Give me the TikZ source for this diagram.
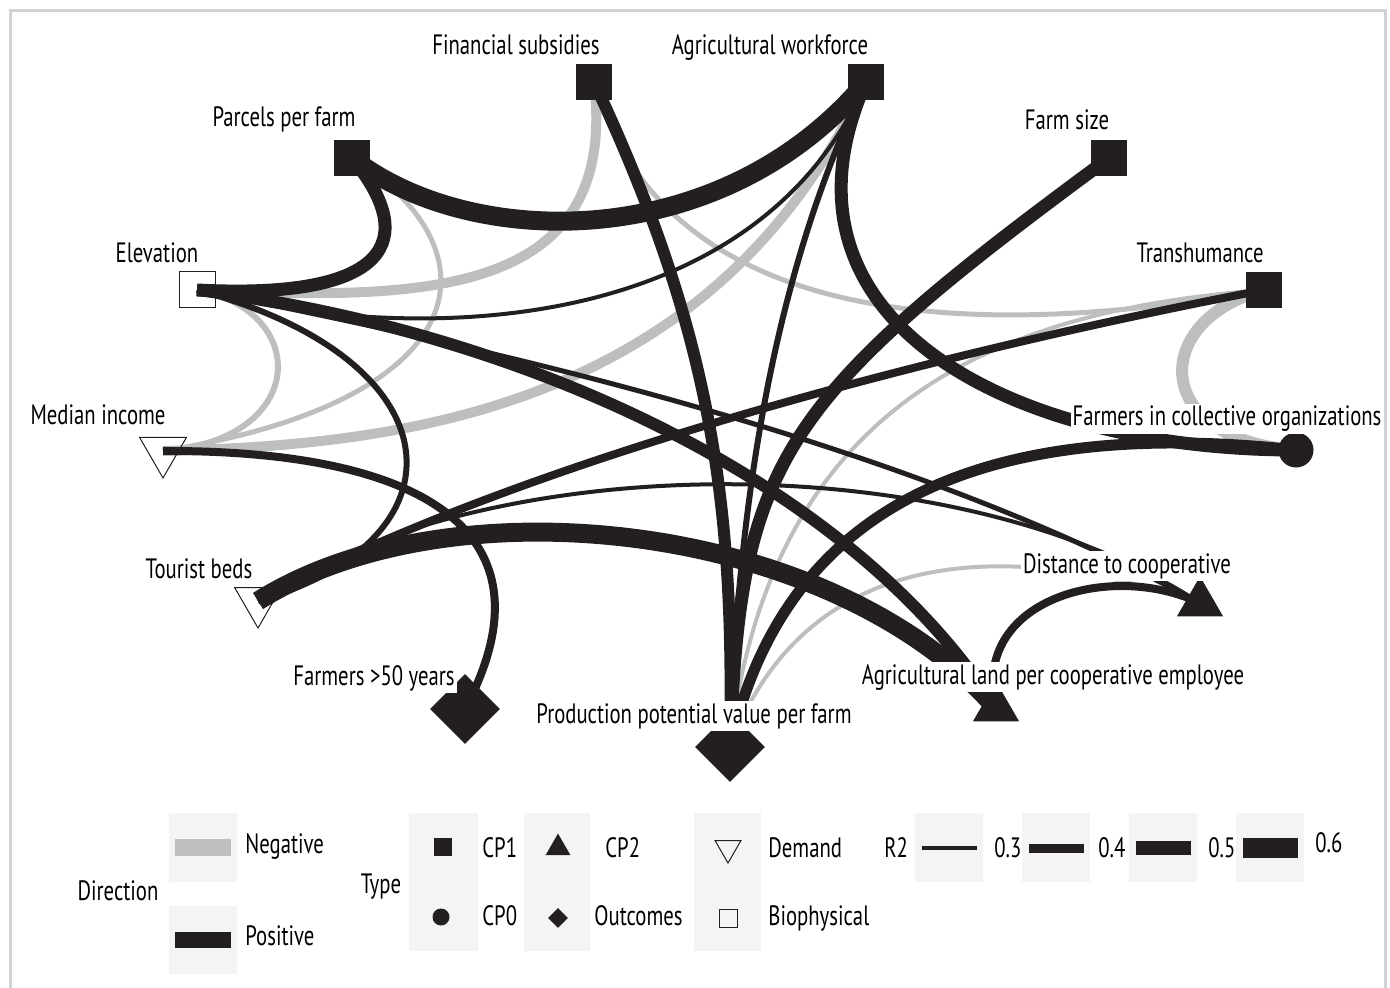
\documentclass[tikz,border=0pt]{standalone}
\usepackage{fontspec}
\setmainfont{PT Sans}[FakeStretch=0.74]
\usetikzlibrary{shapes.geometric}
\definecolor{ink}{HTML}{231F20}
\definecolor{neg}{HTML}{BCBEC0}
\definecolor{panel}{HTML}{F4F4F4}
\definecolor{frame}{HTML}{D1D3D4}
\pgfdeclarelayer{edges}
\pgfsetlayers{edges,main}

\begin{document}
\begin{tikzpicture}[x=0.5pt, y=-0.5pt, inner sep=0pt,
   font=\fontsize{14}{16}\selectfont,
   cpone/.style={rectangle, fill=ink, minimum size=18pt},
   cpzero/.style={circle, fill=ink, minimum size=17.5pt},
   cptwo/.style={regular polygon, regular polygon sides=3, fill=ink, minimum size=26.6pt},
   outcome/.style={diamond, fill=ink, minimum size=35pt},
   demand/.style={regular polygon, regular polygon sides=3, shape border rotate=180, draw=ink, line width=0.5pt, minimum size=27pt},
   bio/.style={rectangle, draw=ink, line width=0.5pt, minimum size=18pt},
   varname/.style={anchor=base, fill=white, inner sep=1pt},
   key/.style={anchor=base west},
   posedge/.style={draw=ink},
   negedge/.style={draw=neg}
   ]
   \path[use as bounding box] (0,0) rectangle (1390,988);
   \draw[frame, line width=1.5pt] (10,988) -- (10,11) -- (1385,11) -- (1385,988);

   % variables
   \path (594,82) node[cpone] (FS) {}
   (866,82) node[cpone] (AW) {}
   (352,158) node[cpone] (PF) {}
   (1109,158) node[cpone] (FZ) {}
   (1264,290) node[cpone] (TR) {};
   \path (197,290) node[bio] (EL) {}
   (163,451) node[demand] (MI) {}
   (258,601) node[demand] (TB) {};
   \path (1296,450) node[cpzero] (CO) {};
   \path (1200,603) node[cptwo] (DC) {}
   (996,708) node[cptwo] (AL) {};
   \path (465,709) node[outcome] (FA) {}
   (730,747) node[outcome] (PP) {};

   \begin{pgfonlayer}{edges}
   % negative
   \draw[negedge, line width=5pt] (FS.center) .. controls (620,300) and (420,300) .. (EL.center);
   \draw[negedge, line width=5pt] (AW.center) .. controls (710,420) and (380,445) .. (MI.center);
   \draw[negedge, line width=6pt] (TR.center) .. controls (1150,320) and (1150,440) .. (CO.center);
   \draw[negedge, line width=2.5pt] (PF.center) .. controls (500,250) and (480,400) .. (MI.center);
   \draw[negedge, line width=3pt] (EL.center) .. controls (310,310) and (310,440) .. (MI.center);
   \draw[negedge, line width=2.5pt] (FS.center) .. controls (650,280) and (870,360) .. (TR.center);
   \draw[negedge, line width=2pt] (TR.center) .. controls (1000,310) and (770,400) .. (PP.center);
   \draw[negedge, line width=2pt] (DC.center) .. controls (980,530) and (800,560) .. (PP.center);
   % positive
   \draw[posedge, line width=9.5pt] (PF.center) .. controls (470,250) and (720,255) .. (AW.center);
   \draw[posedge, line width=6.5pt] (PF.center) .. controls (420,240) and (390,300) .. (EL.center);
   \draw[posedge, line width=6pt] (FS.center) .. controls (710,330) and (735,500) .. (PP.center);
   \draw[posedge, line width=6.5pt] (AW.center) .. controls (760,320) and (1010,450) .. (CO.center);
   \draw[posedge, line width=2pt] (AW.center) .. controls (760,330) and (430,350) .. (EL.center);
   \draw[posedge, line width=3pt] (AW.center) .. controls (780,260) and (738,480) .. (PP.center);
   \draw[posedge, line width=6.5pt] (FZ.center) .. controls (780,400) and (740,460) .. (PP.center);
   \draw[posedge, line width=9.5pt] (TB.center) .. controls (450,480) and (830,520) .. (AL.center);
   \draw[posedge, line width=4pt] (TB.center) .. controls (500,470) and (900,360) .. (TR.center);
   \draw[posedge, line width=2pt] (TB.center) .. controls (480,450) and (950,440) .. (DC.center);
   \draw[posedge, line width=3pt] (TB.center) .. controls (470,540) and (460,360) .. (EL.center);
   \draw[posedge, line width=4pt] (MI.center) .. controls (420,450) and (560,530) .. (FA.center);
   \draw[posedge, line width=6pt] (EL.center) .. controls (520,330) and (850,480) .. (AL.center);
   \draw[posedge, line width=2.5pt] (EL.center) .. controls (500,350) and (900,440) .. (DC.center);
   \draw[posedge, line width=5.5pt] (CO.center) .. controls (1020,420) and (790,480) .. (PP.center);
   \draw[posedge, line width=4pt] (AL.center) .. controls (970,600) and (1110,560) .. (DC.center);
   \end{pgfonlayer}

   % names
   \path (516,55) node[varname] {Financial subsidies}
   (770,55) node[varname] {Agricultural workforce}
   (284,127) node[varname] {Parcels per farm}
   (1067,130) node[varname] {Farm size}
   (157,263) node[varname] {Elevation}
   (1200,263) node[varname] {Transhumance}
   (98,425) node[varname] {Median income}
   (1227,426) node[varname] {Farmers in collective organizations}
   (199,578) node[varname] {Tourist beds}
   (1127,573) node[varname] {Distance to cooperative}
   (374,685) node[varname] {Farmers >50 years}
   (1053,684) node[varname] {Agricultural land per cooperative employee}
   (694,723) node[varname] {Production potential value per farm};

   % legend
   \fill[panel] (169,813) rectangle (237,882) (169,906) rectangle (237,974)
   (409,813) rectangle (478,951) (524,813) rectangle (590,951) (694,813) rectangle (761,951);
   \foreach \x in {915,1022,1129,1236}
     \fill[panel] (\x,813) rectangle +(68,69);
   \fill[neg] (175,839) rectangle (231,856);
   \fill[ink] (175,932) rectangle (231,948);
   \foreach \x/\w in {922/2pt, 1029/4.5pt, 1136/7pt, 1243/10pt}
     \draw[ink, line width=\w] (\x,848) -- +(55,0);

   \path (443,847) node[cpone, minimum size=9pt] (k1) {}
   (441,917) node[cpzero, minimum size=8.5pt] (k0) {}
   (558,848) node[cptwo, minimum size=14.4pt] (k2) {}
   (558,918) node[outcome, minimum size=10pt] (k3) {}
   (728,848) node[demand, minimum size=15pt] (kd) {}
   (728,918) node[bio, minimum size=9pt] (kb) {};

   \path (118,900) node[anchor=base] (dir) {Direction}
   (245,853) node[key] {Negative}
   (245,945) node[key] {Positive}
   (381,893) node[anchor=base] (typ) {Type}
   (482,857) node[key] {CP1}
   (482,925) node[key] {CP0}
   (605,857) node[key] {CP2}
   (594,925) node[key] {Outcomes}
   (768,857) node[key] {Demand}
   (768,925) node[key] {Biophysical}
   (884,857) node[key] {R2}
   (994,857) node[key] {0.3}
   (1098,857) node[key] {0.4}
   (1208,857) node[key] {0.5}
   (1315,852) node[key] {0.6};
\end{tikzpicture}
\end{document}
